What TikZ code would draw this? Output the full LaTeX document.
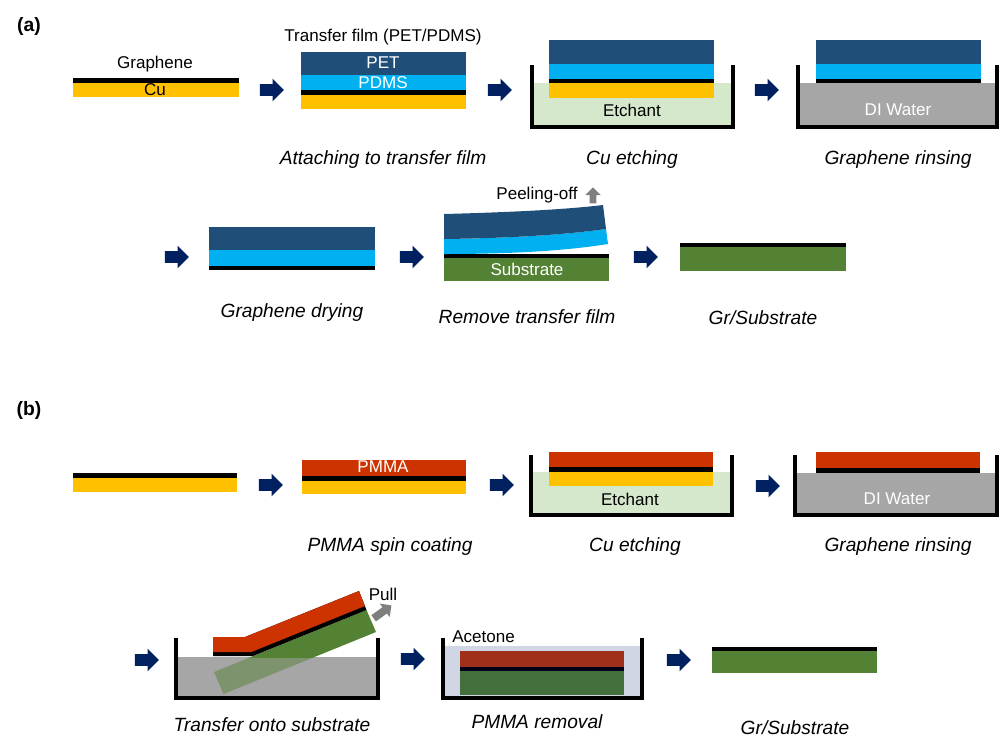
\documentclass[tikz,border=0pt]{standalone}
\usepackage{fontspec}
\setmainfont{Liberation Sans}
\usetikzlibrary{shapes.arrows}
\definecolor{cuyellow}{HTML}{FFC000}
\definecolor{petblue}{HTML}{1F4E79}
\definecolor{pdmscyan}{HTML}{00B0F0}
\definecolor{etchgreen}{HTML}{D5E8CC}
\definecolor{watergray}{HTML}{A6A6A6}
\definecolor{subgreen}{HTML}{548235}
\definecolor{pmmared}{HTML}{CC3300}
\definecolor{arrownavy}{HTML}{002060}
\definecolor{acetoneblue}{HTML}{D0D6E4}
\definecolor{wetred}{HTML}{A0301A}
\definecolor{wetgreen}{HTML}{44703E}
\definecolor{pullgray}{HTML}{7F7F7F}
\begin{document}
\begin{tikzpicture}[x=0.02cm,y=-0.02cm,
	lbl/.style={font=\fontsize{9.7}{11}\selectfont, inner sep=0pt},
	captxt/.style={font=\fontsize{10.9}{12}\selectfont\itshape, inner sep=0pt},
	tag/.style={font=\fontsize{11}{12}\selectfont\bfseries, inner sep=0pt},
	stepar/.style={single arrow, fill=arrownavy, minimum height=0.48cm,
		single arrow head extend=0.11cm, inner sep=0.11cm},
	wall/.style={line width=1.8pt}]
	\useasboundingbox (0,0) rectangle (1001,738);

	% ---------- (a) ----------
	\node[tag] (taga) at (29,26) {(a)};
	% Cu foil with graphene
	\fill (73,78) rectangle (239,83);
	\fill[cuyellow] (73,83) rectangle (239,97);
	\node[lbl] (grlbl) at (155,64) {Graphene};
	\node[lbl] (culbl) at (155,90) {Cu};
	\node[stepar] (a1) at (269,90) {};
	% attaching
	\fill[petblue] (301,52) rectangle (466,75);
	\fill[pdmscyan] (301,75) rectangle (466,90);
	\fill (301,90) rectangle (466,95);
	\fill[cuyellow] (301,95) rectangle (466,109);
	\node[lbl] (tflbl) at (383,37) {Transfer film (PET/PDMS)};
	\node[lbl, white] (petlbl) at (383,63) {PET};
	\node[lbl, white] (pdmslbl) at (383,83) {PDMS};
	\node[captxt] (capa1) at (383,160) {Attaching to transfer film};
	\node[stepar] (a2) at (497,90) {};
	% Cu etching
	\fill[etchgreen] (532,83) rectangle (733,127);
	\fill[petblue] (549,40) rectangle (714,64);
	\fill[pdmscyan] (549,64) rectangle (714,79);
	\fill (549,79) rectangle (714,83);
	\fill[cuyellow] (549,83) rectangle (714,98);
	\draw[wall] (532,65) -- (532,127) -- (733,127) -- (733,65);
	\node[lbl] (etlbla) at (632,110) {Etchant};
	\node[captxt] (capa2) at (632,160) {Cu etching};
	\node[stepar] (a3) at (764,90) {};
	% rinsing
	\fill[watergray] (798,83) rectangle (997,127);
	\fill[petblue] (816,40) rectangle (981,64);
	\fill[pdmscyan] (816,64) rectangle (981,79);
	\fill (816,79) rectangle (981,83);
	\draw[wall] (798,65) -- (798,127) -- (997,127) -- (997,65);
	\node[lbl, white] (dilbla) at (898,110) {DI Water};
	\node[captxt] (capa3) at (898,160) {Graphene rinsing};

	\node[stepar] (a4) at (174,257) {};
	% drying
	\fill[petblue] (209,227) rectangle (375,250);
	\fill[pdmscyan] (209,250) rectangle (375,266);
	\fill (209,266) rectangle (375,270);
	\node[captxt] (capa4) at (292,313) {Graphene drying};
	\node[stepar] (a5) at (409,257) {};
	% peeling off
	\fill (444,254) rectangle (609,258);
	\fill[subgreen] (444,258) rectangle (609,281);
	\node[lbl, white] (sublbl) at (527,269) {Substrate};
	\fill[pdmscyan] (444,254) .. controls (520,254) and (570,250) .. (608,244)
		-- (606,229) .. controls (570,234) and (520,238) .. (444,239) -- cycle;
	\fill[petblue] (444,239) .. controls (520,238) and (570,234) .. (606,229)
		-- (603,205) .. controls (570,209) and (520,212) .. (444,214) -- cycle;
	\node[single arrow, fill=pullgray, shape border rotate=90, minimum height=0.32cm,
		single arrow head extend=0.09cm, inner sep=0.06cm] (peel) at (593,197) {};
	\node[lbl] (peellbl) at (537,195) {Peeling-off};
	\node[captxt] (capa5) at (527,317) {Remove transfer film};
	\node[stepar] (a6) at (643,257) {};
	% result
	\fill (680,243) rectangle (846,247);
	\fill[subgreen] (680,247) rectangle (846,271);
	\node[captxt] (capa6) at (763,318) {Gr/Substrate};

	% ---------- (b) ----------
	\node[tag] (tagb) at (29,410) {(b)};
	\fill (73,473) rectangle (237,478);
	\fill[cuyellow] (73,478) rectangle (237,492);
	\node[stepar] (b1) at (268,485) {};
	% spin coating
	\fill[pmmared] (302,460) rectangle (466,476);
	\fill (302,476) rectangle (466,481);
	\fill[cuyellow] (302,481) rectangle (466,494);
	\node[lbl, white] (pmmalbl) at (383,467) {PMMA};
	\node[captxt] (capb1) at (390,547) {PMMA spin coating};
	\node[stepar] (b2) at (499,485) {};
	% Cu etching
	\fill[etchgreen] (531,472) rectangle (732,515);
	\fill[pmmared] (549,452) rectangle (713,467);
	\fill (549,467) rectangle (713,472);
	\fill[cuyellow] (549,472) rectangle (713,486);
	\draw[wall] (531,455) -- (531,515) -- (732,515) -- (732,455);
	\node[lbl] (etlblb) at (630,499) {Etchant};
	\node[captxt] (capb2) at (635,547) {Cu etching};
	\node[stepar] (b3) at (765,486) {};
	% rinsing
	\fill[watergray] (795,473) rectangle (997,515);
	\fill[pmmared] (816,452) rectangle (980,468);
	\fill (816,468) rectangle (980,473);
	\draw[wall] (795,455) -- (795,515) -- (997,515) -- (997,455);
	\node[lbl, white] (dilblb) at (897,499) {DI Water};
	\node[captxt] (capb3) at (898,547) {Graphene rinsing};

	\node[stepar] (b4) at (144,660) {};
	% transfer onto substrate
	\fill[watergray] (176,657) rectangle (378,698);
	\begin{scope}
		\clip (176,657) rectangle (378,720);
		\fill[subgreen, opacity=0.5] (214,672) -- (366.5,610) -- (376,632) -- (223.5,694) -- cycle;
	\end{scope}
	\begin{scope}
		\clip (150,570) rectangle (400,657);
		\fill[subgreen] (214,672) -- (366.5,610) -- (376,632) -- (223.5,694) -- cycle;
	\end{scope}
	\fill (213,637) -- (245,637) -- (359,591) -- (366.5,610) -- (253,656) -- (213,656) -- cycle;
	\fill[pmmared] (213,637) -- (245,637) -- (359,591) -- (365,606) -- (251.4,652) -- (213,652) -- cycle;
	\draw[wall] (176,638) -- (176,698) -- (378,698) -- (378,638);
	\node[single arrow, fill=pullgray, rotate=36, minimum height=0.44cm,
		single arrow head extend=0.09cm, inner sep=0.07cm] (pull) at (381,613) {};
	\node[lbl] (pulllbl) at (383,594) {Pull};
	\node[captxt] (capb4) at (272,725) {Transfer onto substrate};
	\node[stepar] (b5) at (410,659) {};
	% PMMA removal
	\fill[acetoneblue] (443,646) rectangle (642,698);
	\fill[wetred] (460,651) rectangle (624,667);
	\fill[black!90!blue] (460,667) rectangle (624,671);
	\fill[wetgreen] (460,671) rectangle (624,695);
	\draw[wall] (443,638) -- (443,698) -- (642,698) -- (642,638);
	\node[lbl, anchor=west] (acelbl) at (452,637) {Acetone};
	\node[captxt] (capb5) at (537,722) {PMMA removal};
	\node[stepar] (b6) at (676,660) {};
	% result
	\fill (712,647) rectangle (877,651);
	\fill[subgreen] (712,651) rectangle (877,673);
	\node[captxt] (capb6) at (795,728) {Gr/Substrate};
\end{tikzpicture}
\end{document}
